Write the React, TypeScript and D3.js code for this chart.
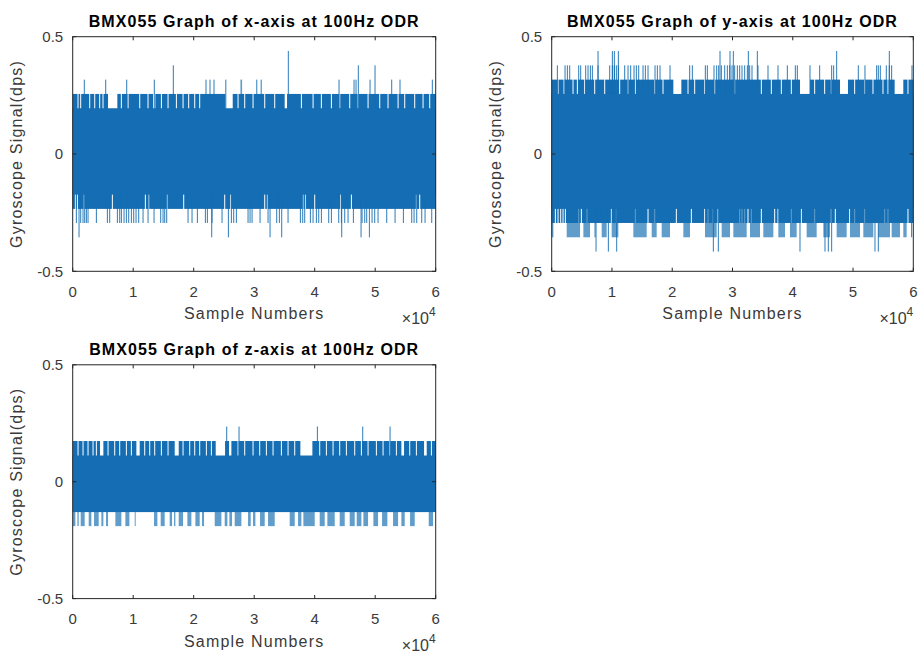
import React from 'react';
import * as d3 from 'd3';

type Run = number | [number, number];

const N_SAMPLES = 60000;
const xTickValues = [0, 10000, 20000, 30000, 40000, 50000, 60000];
const xTickLabels = ['0', '1', '2', '3', '4', '5', '6'];
const yTickValues = [-0.5, 0, 0.5];
const yTickLabels = ['-0.5', '0', '0.5'];
const titles = [
  'BMX055 Graph of x-axis at 100Hz ODR',
  'BMX055 Graph of y-axis at 100Hz ODR',
  'BMX055 Graph of z-axis at 100Hz ODR',
];
const xLabel = 'Sample Numbers';
const yLabel = 'Gyroscope Signal(dps)';

// ---------- x-axis gyro (dense core + quantised excursions) ----------
const xCore = [-0.173, 0.195];
const xUpperBandLevel = 0.256;
const xUpperBandGaps: Run[] = [880, 1320, 2810, 3640, 4460, 5010, [5840, 7380], 8040, 9150, 11080, 12450, [13280, 13660], 14660, 15760, 17140, 18240, 19170, 20170, 20990, [25240, 26450], 27330, 28430, 29810, 31740, 33390, [35040, 35430], 37800, 39730, 41100, 42760, 44140, 45790, 47170, 48820, 50750, 52120, 53780, 54880, 56530, 57910, 59010];
const xLowerBandLevel = -0.234;
const xLowerBandGaps: Run[] = [441, 771, 1873, 6557, 12012, 12563, 15593, 18348, 25126, 26118, 31738, 32179, 38074, 38460, 40003, 44300, 46064, 56808, 57359];
const xSpikes317: Run[] = [1918, 5455, 8926, 13488, 22034, 22695, 23356, 25307, [27724, 28000], 30425, 31153, 44021, 46501, 46832, 49146, 52727, 54099, 59442];
const xSpikes378: Run[] = [16630, 47210, 49970];
const xSpikes439: Run[] = [35640];
const xSpikesM294: Run[] = [606, 1322, 1708, 1984, 2259, 2535, 3912, 5730, 6116, 7383, 7769, 8045, 8485, 8871, 9257, 9698, 10083, 10469, 10910, 11626, 12453, 13444, 14546, 14932, 15208, 15538, 19065, 19726, 20607, 21930, 22260, 23032, 24685, 26228, 26613, 27054, 28983, 29313, 29644, 30967, 32289, 33721, 34162, 35595, 37633, 38019, 38350, 39286, 39727, 40278, 40664, 41105, 42317, 42758, 43970, 44411, 44962, 45513, 46394, 47827, 48268, 48598, 49480, 49920, 50472, 51904, 53282, 54659, 56037, 56423, 56863, 57690, 58241, 59343];
const xSpikesM355: Run[] = [1047, 22977, 25732, 32619, 34548, 44466, 47662, 49039];

// ---------- y-axis gyro ----------
const yCore = [-0.234, 0.256];
const yUpperBandLevel = 0.317;
const yUpperBandGaps: Run[] = [1051, 2046, 3539, 4258, 5475, 7134, 8793, 11281, 12664, 13880, 17088, 18470, [20185, 21512], 22618, 23724, 25383, 27042, 30360, 34784, 36443, 38102, 39761, [41199, 42858], 43632, 45291, 46397, [47835, 49162], 50268, 51927, 53309, 54968, 55798, [56904, 58342], 59116];
const yLowerBandLevel = -0.294;
const yLowerBandGaps: Run[] = [608, 1051, 1493, 1880, 2267, 4479, 4922, 5862, 9899, 10728, 13880, 15982, 17088, 20682, 23171, 25383, 25936, 26765, 27595, 31189, 31576, 32019, 32572, 33125, 34784, 36996, 37549, 39761, 41420, 43632, 46397, 47060, 49438, 50268, 51927, 55245, 55798, 59116];
const ySpikes378: Run[] = [940, 2212, 2599, 2986, 4479, 4811, 5641, 6028, 6415, 6747, 7687, 9622, 10065, 10396, 10728, 11060, 12111, 12664, 13106, 13659, 14046, 14433, 15152, 15539, 15982, 17143, 17530, 17973, 19632, 22894, 23337, 25493, 25825, 26931, 27374, 27705, 28148, 28701, 29143, 29530, 29917, 30360, 30802, 31189, 31576, 32019, 32461, 32848, 33235, 34230, 35890, 37549, 39097, 40424, 40756, 42858, 44461, 46452, 46784, 50876, 51982, 53918, 54194, 54526, 55521, 56019, 56406, 59779];
const ySpikes439: Run[] = [7687, 10065, 10396, 11060, 27927, 29586, 30139, 32627, 34120, 47282, 56019];
const ySpikesM355: Run[] = [[0, 277], [2489, 4701], [5254, 6360], 7189, [8295, 9125], [9954, 11060], [13549, 15761], [16590, 17420], [18249, 19632], [21844, 22950], [25438, 27374], [28203, 29586], [30139, 32351], [32904, 34563], [35116, 36775], [37604, 38710], [39540, 40646], [42305, 43964], [45070, 46176], [47282, 48941], [49494, 51153], [51706, 53365], [54194, 56130], [56406, 57789], [58342, 58895], 59724];
const ySpikesM416: Run[] = [7355, 9401, 10784, 26821, 27650, 41199, 45346, 45899, 46452, 53641, 54194];

// ---------- z-axis gyro ----------
const zCore = [-0.13, 0.112];
const zUpperBandLevel = 0.174;
const zUpperBandGaps: Run[] = [882, 1708, 2535, 3361, 3912, [4518, 5069], 5841, 6943, 7769, 8871, 9698, [10524, 11075], 11902, 12728, 13555, 14657, 15759, [16861, 17522], 18238, 19340, 20167, 20993, 22095, 22922, [23638, 25181], [25842, 26228], 27330, 28432, 29809, 30911, 32013, 33115, 34493, 35595, 36697, [37633, 39617], 40829, 41931, 43033, 44135, 45237, 46615, 47717, 48819, 50196, 51298, 52400, 53502, [54329, 54769], 55706, 56808, [58077, 58517], 59288];
const zSpikes236: Run[] = [25456, 27495, 40443, 47937, 52455];
const zSpikesM190: Run[] = [[55, 441], [771, 992], [1322, 1984], [2645, 3086], [3526, 4298], [4739, 5069], [5510, 5841], [7053, 8045], [8706, 9367], [10249, 10414], [13444, 13995], [14546, 15208], [16034, 16420], [16750, 16971], [17522, 18238], [18954, 19616], [20277, 20993], [21379, 21709], [23473, 24575], [25126, 25566], [25897, 26338], [26779, 27881], [28983, 29423], [29809, 30195], [30966, 31738], [32289, 33391], [35870, 36697], [37248, 37799], [38129, 40003], [40829, 41656], [42096, 43309], [44135, 44962], [45788, 46615], [46945, 47717], [48047, 48819], [49700, 50472], [51133, 52014], [52951, 53778], [54329, 54880], [55761, 56533], [58847, 59563]];

const BLUE = '#156eb3';
const AXIS = '#262626';
const TEXT = '#3a3a3a';
const FONT = "'Liberation Sans', Arial, Helvetica, sans-serif";

interface Band { level: number; gaps: Run[] }
interface Spikes { level: number; runs: Run[] }
interface Frame { left: number; top: number; width: number; height: number }

function toInterval(r: Run, half: number): [number, number] {
  return typeof r === 'number' ? [r - half, r + half] : r;
}

function complement(gaps: Run[], half: number): [number, number][] {
  const iv = gaps.map((g) => toInterval(g, half)).sort((a, b) => a[0] - b[0]);
  const out: [number, number][] = [];
  let cur = 0;
  for (const [a, b] of iv) {
    if (a > cur) out.push([cur, a]);
    cur = Math.max(cur, b);
  }
  if (cur < N_SAMPLES) out.push([cur, N_SAMPLES]);
  return out;
}

function Subplot({ frame, title, core, bands, spikes }: { frame: Frame; title: string; core: number[]; bands: Band[]; spikes: Spikes[] }) {
  const { left, top, width, height } = frame;
  const x = d3.scaleLinear().domain([0, N_SAMPLES]).range([left, left + width]);
  const y = d3.scaleLinear().domain([-0.5, 0.5]).range([top + height, top]);
  const bottom = top + height;
  const right = left + width;
  const gapHalf = x.invert(left + 0.5);
  const tickLen = 3.6;

  // vertical extent of an excursion: from the level back into the core (overlap avoids seams)
  const span = (lvl: number) => {
    const inner = lvl > 0 ? (core[1] + core[0]) / 2 : (core[1] + core[0]) / 2;
    const y0 = Math.min(y(lvl), y(inner));
    const y1 = Math.max(y(lvl), y(inner));
    return [y0, y1];
  };

  return (
    <g>
      {bands.map((b, bi) => {
        const [y0, y1] = span(b.level);
        return complement(b.gaps, gapHalf).map(([a, e], i) => (
          <rect key={`b${bi}-${i}`} x={x(a)} y={y0} width={Math.max(0.6, x(e) - x(a))} height={y1 - y0} fill={BLUE} />
        ));
      })}
      {spikes.map((s, si) => {
        const [y0, y1] = span(s.level);
        return s.runs.map((r, i) => {
          const single = typeof r === 'number';
          const [a, e] = toInterval(r, 0);
          const w = Math.max(1, x(e) - x(a));
          return (
            <rect
              key={`s${si}-${i}`}
              x={single ? x(a) - 0.5 : x(a)}
              y={y0}
              width={w}
              height={y1 - y0}
              fill={BLUE}
              fillOpacity={single ? 0.9 : 0.68}
            />
          );
        });
      })}
      {/* dense core */}
      <rect x={x(0)} y={y(core[1])} width={x(N_SAMPLES) - x(0)} height={y(core[0]) - y(core[1])} fill={BLUE} />
      {/* axes box */}
      <rect x={left} y={top} width={width} height={height} fill="none" stroke={AXIS} strokeWidth={1} />
      {xTickValues.map((t, i) => (
        <g key={`xt${i}`}>
          <line x1={x(t)} x2={x(t)} y1={bottom} y2={bottom - tickLen} stroke={AXIS} />
          <line x1={x(t)} x2={x(t)} y1={top} y2={top + tickLen} stroke={AXIS} />
          <text x={x(t)} y={bottom + 25.5} textAnchor="middle" fontSize={15} fill={TEXT} fontFamily={FONT}>
            {xTickLabels[i]}
          </text>
        </g>
      ))}
      {yTickValues.map((t, i) => (
        <g key={`yt${i}`}>
          <line x1={left} x2={left + tickLen} y1={y(t)} y2={y(t)} stroke={AXIS} />
          <line x1={right} x2={right - tickLen} y1={y(t)} y2={y(t)} stroke={AXIS} />
          <text x={left - 9.5} y={y(t)} dy="0.35em" textAnchor="end" fontSize={15} fill={TEXT} fontFamily={FONT}>
            {yTickLabels[i]}
          </text>
        </g>
      ))}
      <text x={(left + right) / 2} y={top - 9.5} textAnchor="middle" fontSize={16} fontWeight="bold" letterSpacing={1.1} fill="#000" fontFamily={FONT}>
        {title}
      </text>
      <text x={(left + right) / 2} y={bottom + 48} textAnchor="middle" fontSize={16} letterSpacing={1.2} fill={TEXT} fontFamily={FONT}>
        {xLabel}
      </text>
      <text transform={`translate(${left - 51},${(top + bottom) / 2}) rotate(-90)`} textAnchor="middle" fontSize={16} letterSpacing={1.2} fill={TEXT} fontFamily={FONT}>
        {yLabel}
      </text>
      <text x={right} y={bottom + 52.5} textAnchor="end" fontSize={16} fill={TEXT} fontFamily={FONT}>
        <tspan>×10</tspan>
        <tspan dy={-8} fontSize={12}>4</tspan>
      </text>
    </g>
  );
}

export default function App() {
  const plots = [
    {
      frame: { left: 72.7, top: 36.7, width: 363, height: 234.6 },
      title: titles[0],
      core: xCore,
      bands: [
        { level: xUpperBandLevel, gaps: xUpperBandGaps },
        { level: xLowerBandLevel, gaps: xLowerBandGaps },
      ],
      spikes: [
        { level: 0.317, runs: xSpikes317 },
        { level: 0.378, runs: xSpikes378 },
        { level: 0.439, runs: xSpikes439 },
        { level: -0.294, runs: xSpikesM294 },
        { level: -0.355, runs: xSpikesM355 },
      ],
    },
    {
      frame: { left: 551.7, top: 36.7, width: 361.6, height: 234.6 },
      title: titles[1],
      core: yCore,
      bands: [
        { level: yUpperBandLevel, gaps: yUpperBandGaps },
        { level: yLowerBandLevel, gaps: yLowerBandGaps },
      ],
      spikes: [
        { level: 0.378, runs: ySpikes378 },
        { level: 0.439, runs: ySpikes439 },
        { level: -0.355, runs: ySpikesM355 },
        { level: -0.416, runs: ySpikesM416 },
      ],
    },
    {
      frame: { left: 72.7, top: 364.8, width: 363, height: 233.8 },
      title: titles[2],
      core: zCore,
      bands: [{ level: zUpperBandLevel, gaps: zUpperBandGaps }],
      spikes: [
        { level: 0.236, runs: zSpikes236 },
        { level: -0.19, runs: zSpikesM190 },
      ],
    },
  ];
  return (
    <svg width={924} height={655} style={{ position: 'absolute', left: 0, top: 0, background: '#fff' }}>
      <rect x={0} y={0} width={924} height={655} fill="#fff" />
      {plots.map((p, i) => (
        <Subplot key={i} {...p} />
      ))}
    </svg>
  );
}
